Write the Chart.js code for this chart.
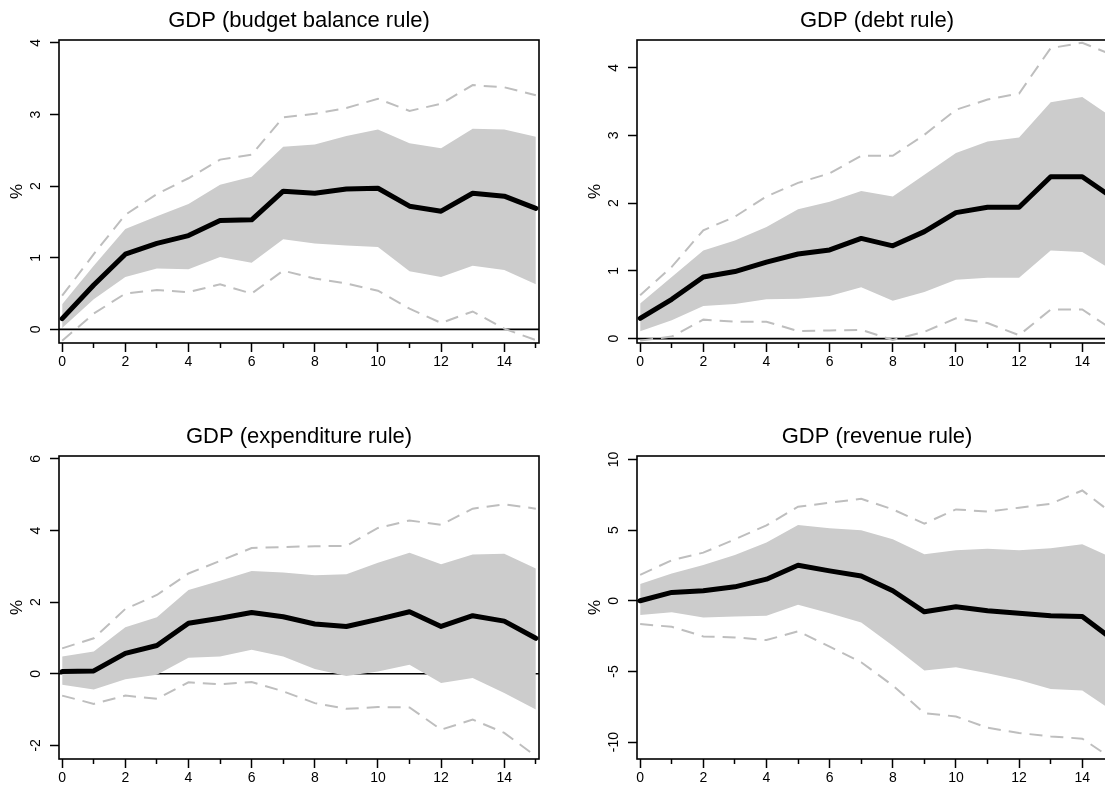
<!DOCTYPE html>
<html>
<head>
<meta charset="utf-8">
<script src="https://cdn.jsdelivr.net/npm/chart.js@4.4.1/dist/chart.umd.min.js"></script>
<style>
  html, body { margin: 0; padding: 0; background: #fff; width: 1105px; height: 785px; overflow: hidden; }
  .panel { position: absolute; width: 552px; height: 392px; }
</style>
</head>
<body>
<div class="panel" style="left:0;top:0"><canvas id="bb" width="552" height="392"></canvas></div>
<div class="panel" style="left:578px;top:0"><canvas id="db" width="552" height="392"></canvas></div>
<div class="panel" style="left:0;top:416px"><canvas id="ex" width="552" height="392"></canvas></div>
<div class="panel" style="left:578px;top:416px"><canvas id="rv" width="552" height="392"></canvas></div>
<script>
// horizons (quarters after the shock)
const horizons = [0, 1, 2, 3, 4, 5, 6, 7, 8, 9, 10, 11, 12, 13, 14, 15];
const xLabelTicks = [0, 2, 4, 6, 8, 10, 12, 14];
const xMinorTicks = [1, 3, 5, 7, 9, 11, 13, 15];

// budget balance rule
const bbMean    = [0.15, 0.62, 1.05, 1.20, 1.31, 1.52, 1.53, 1.93, 1.90, 1.96, 1.97, 1.72, 1.65, 1.90, 1.86, 1.69];
const bbUpper68 = [0.35, 0.89, 1.40, 1.58, 1.75, 2.02, 2.13, 2.55, 2.58, 2.70, 2.79, 2.60, 2.53, 2.80, 2.79, 2.69];
const bbLower68 = [0.02, 0.42, 0.73, 0.85, 0.84, 1.01, 0.93, 1.26, 1.20, 1.17, 1.15, 0.81, 0.73, 0.89, 0.83, 0.63];
const bbUpper90 = [0.47, 1.05, 1.60, 1.89, 2.11, 2.37, 2.44, 2.96, 3.01, 3.09, 3.22, 3.05, 3.15, 3.41, 3.38, 3.27];
const bbLower90 = [-0.16, 0.22, 0.50, 0.55, 0.52, 0.63, 0.50, 0.82, 0.71, 0.64, 0.54, 0.29, 0.09, 0.25, 0.01, -0.15];
const bbTicks   = [0, 1, 2, 3, 4];

// debt rule
const dbMean    = [0.30, 0.58, 0.91, 0.99, 1.13, 1.25, 1.31, 1.48, 1.37, 1.58, 1.86, 1.94, 1.94, 2.39, 2.39, 2.07];
const dbUpper68 = [0.52, 0.91, 1.30, 1.45, 1.65, 1.91, 2.02, 2.18, 2.10, 2.42, 2.74, 2.91, 2.97, 3.49, 3.57, 3.25];
const dbLower68 = [0.11, 0.27, 0.48, 0.51, 0.58, 0.59, 0.63, 0.76, 0.56, 0.69, 0.87, 0.90, 0.90, 1.30, 1.28, 1.00];
const dbUpper90 = [0.64, 1.06, 1.60, 1.80, 2.10, 2.30, 2.44, 2.70, 2.70, 3.01, 3.38, 3.53, 3.62, 4.29, 4.37, 4.18];
const dbLower90 = [-0.03, 0.03, 0.28, 0.25, 0.25, 0.11, 0.12, 0.13, -0.02, 0.10, 0.30, 0.23, 0.05, 0.43, 0.43, 0.12];
const dbTicks   = [0, 1, 2, 3, 4];

// expenditure rule
const exMean    = [0.06, 0.08, 0.57, 0.79, 1.41, 1.55, 1.71, 1.59, 1.39, 1.32, 1.52, 1.73, 1.32, 1.62, 1.47, 0.99];
const exUpper68 = [0.48, 0.62, 1.30, 1.58, 2.34, 2.60, 2.87, 2.83, 2.75, 2.78, 3.10, 3.38, 3.06, 3.33, 3.35, 2.94];
const exLower68 = [-0.31, -0.44, -0.15, -0.03, 0.45, 0.48, 0.67, 0.48, 0.13, -0.06, 0.06, 0.25, -0.26, -0.12, -0.54, -1.00];
const exUpper90 = [0.71, 0.99, 1.81, 2.20, 2.80, 3.15, 3.51, 3.54, 3.56, 3.57, 4.07, 4.28, 4.16, 4.61, 4.73, 4.61];
const exLower90 = [-0.61, -0.84, -0.61, -0.70, -0.24, -0.29, -0.23, -0.49, -0.82, -0.98, -0.93, -0.94, -1.56, -1.28, -1.65, -2.30];
const exTicks   = [-2, 0, 2, 4, 6];

// revenue rule
const rvMean    = [0.00, 0.59, 0.71, 0.99, 1.53, 2.52, 2.12, 1.76, 0.71, -0.78, -0.42, -0.71, -0.89, -1.06, -1.11, -2.80];
const rvUpper68 = [1.18, 1.93, 2.54, 3.25, 4.12, 5.36, 5.13, 4.99, 4.35, 3.29, 3.58, 3.69, 3.58, 3.72, 4.00, 3.00];
const rvLower68 = [-1.01, -0.82, -1.18, -1.11, -1.06, -0.28, -0.89, -1.53, -3.18, -4.94, -4.71, -5.13, -5.60, -6.24, -6.35, -7.85];
const rvUpper90 = [1.84, 2.87, 3.41, 4.35, 5.34, 6.66, 6.94, 7.22, 6.47, 5.46, 6.47, 6.31, 6.59, 6.87, 7.81, 6.10];
const rvLower90 = [-1.65, -1.84, -2.52, -2.59, -2.78, -2.16, -3.25, -4.35, -6.00, -7.95, -8.19, -8.99, -9.36, -9.60, -9.76, -11.26];
const rvTicks   = [-10, -5, 0, 5, 10];

const FONT = '"Liberation Sans", Arial, Helvetica, sans-serif';

// zero line under everything, then box / rotated y labels / % / title on top (R base graphics look)
const rStyle = {
  id: 'rStyle',
  beforeDatasetsDraw(chart) {
    const ctx = chart.ctx, a = chart.chartArea;
    const y0 = chart.scales.y.getPixelForValue(0);
    ctx.save();
    ctx.strokeStyle = '#000';
    ctx.lineWidth = 1.6;
    ctx.beginPath();
    ctx.moveTo(a.left, y0);
    ctx.lineTo(a.right, y0);
    ctx.stroke();
    ctx.restore();
  },
  afterDraw(chart, args, opts) {
    const ctx = chart.ctx, a = chart.chartArea, y = chart.scales.y;
    ctx.save();
    ctx.strokeStyle = '#000';
    ctx.lineWidth = 1.6;
    ctx.strokeRect(a.left, a.top, a.right - a.left, a.bottom - a.top);

    ctx.fillStyle = '#000';
    ctx.textAlign = 'center';
    ctx.textBaseline = 'middle';
    ctx.font = '14px ' + FONT;
    y.ticks.forEach(t => {
      ctx.save();
      ctx.translate(a.left - 23, y.getPixelForValue(t.value));
      ctx.rotate(-Math.PI / 2);
      ctx.fillText(String(t.value), 0, 0);
      ctx.restore();
    });

    ctx.font = '17px ' + FONT;
    ctx.save();
    ctx.translate(a.left - 42, (a.top + a.bottom) / 2);
    ctx.rotate(-Math.PI / 2);
    ctx.fillText('%', 0, 0);
    ctx.restore();

    ctx.font = '22px ' + FONT;
    ctx.fillText(opts.title, (a.left + a.right) / 2, a.top - 19);
    ctx.restore();
  }
};

function pts(vals) {
  return horizons.map((h, i) => ({ x: h, y: vals[i] }));
}

function drawPanel(id, title, mean, up68, lo68, up90, lo90, yTicks, yMin, yMax) {
  const dashed = {
    borderColor: '#bebebe', borderWidth: 2, borderDash: [13, 8],
    pointRadius: 0, fill: false, order: 1
  };
  new Chart(document.getElementById(id), {
    type: 'line',
    data: {
      datasets: [
        { label: 'mean', data: pts(mean), borderColor: '#000', borderWidth: 5,
          borderCapStyle: 'round', borderJoinStyle: 'round', pointRadius: 0, fill: false, order: 0 },
        Object.assign({ label: 'upper 90', data: pts(up90) }, dashed),
        Object.assign({ label: 'lower 90', data: pts(lo90) }, dashed),
        { label: 'upper 68', data: pts(up68), borderWidth: 0, borderColor: 'rgba(0,0,0,0)',
          backgroundColor: '#cccccc', pointRadius: 0, fill: '+1', order: 2 },
        { label: 'lower 68', data: pts(lo68), borderWidth: 0, borderColor: 'rgba(0,0,0,0)',
          pointRadius: 0, fill: false, order: 2 }
      ]
    },
    options: {
      responsive: false,
      animation: false,
      layout: { padding: { left: 59, right: 13, top: 40, bottom: 19 } },
      plugins: {
        legend: { display: false },
        tooltip: { enabled: false },
        rStyle: { title: title }
      },
      scales: {
        x: {
          type: 'linear', position: 'bottom', weight: 1, min: -0.1, max: 15.1, bounds: 'data',
          afterBuildTicks: s => { s.ticks = xLabelTicks.map(v => ({ value: v })); },
          afterFit: s => { s.height = 30; },
          grid: { display: true, drawOnChartArea: false, drawTicks: true, tickLength: 9,
                  tickColor: '#000', tickWidth: 1.5 },
          border: { display: false },
          ticks: { color: '#000', font: { family: FONT, size: 14 }, padding: 2,
                   maxRotation: 0, minRotation: 0, autoSkip: false }
        },
        x2: {
          type: 'linear', position: 'bottom', weight: 0, min: -0.1, max: 15.1, bounds: 'data',
          afterBuildTicks: s => { s.ticks = xMinorTicks.map(v => ({ value: v })); },
          afterFit: s => { s.height = 0; },
          grid: { display: true, drawOnChartArea: false, drawTicks: true, tickLength: 5,
                  tickColor: '#000', tickWidth: 1.5 },
          border: { display: false },
          ticks: { display: false }
        },
        y: {
          type: 'linear', min: yMin, max: yMax, bounds: 'data',
          afterBuildTicks: s => { s.ticks = yTicks.map(v => ({ value: v })); },
          afterFit: s => { s.width = 0; },
          grid: { display: true, drawOnChartArea: false, drawTicks: true, tickLength: 9,
                  tickColor: '#000', tickWidth: 1.5 },
          border: { display: false },
          ticks: { display: false }
        }
      }
    },
    plugins: [rStyle]
  });
}

drawPanel('bb', 'GDP (budget balance rule)', bbMean, bbUpper68, bbLower68, bbUpper90, bbLower90, bbTicks, -0.19, 4.04);
drawPanel('db', 'GDP (debt rule)', dbMean, dbUpper68, dbLower68, dbUpper90, dbLower90, dbTicks, -0.065, 4.41);
drawPanel('ex', 'GDP (expenditure rule)', exMean, exUpper68, exLower68, exUpper90, exLower90, exTicks, -2.38, 6.08);
drawPanel('rv', 'GDP (revenue rule)', rvMean, rvUpper68, rvLower68, rvUpper90, rvLower90, rvTicks, -11.2, 10.25);
</script>
</body>
</html>
